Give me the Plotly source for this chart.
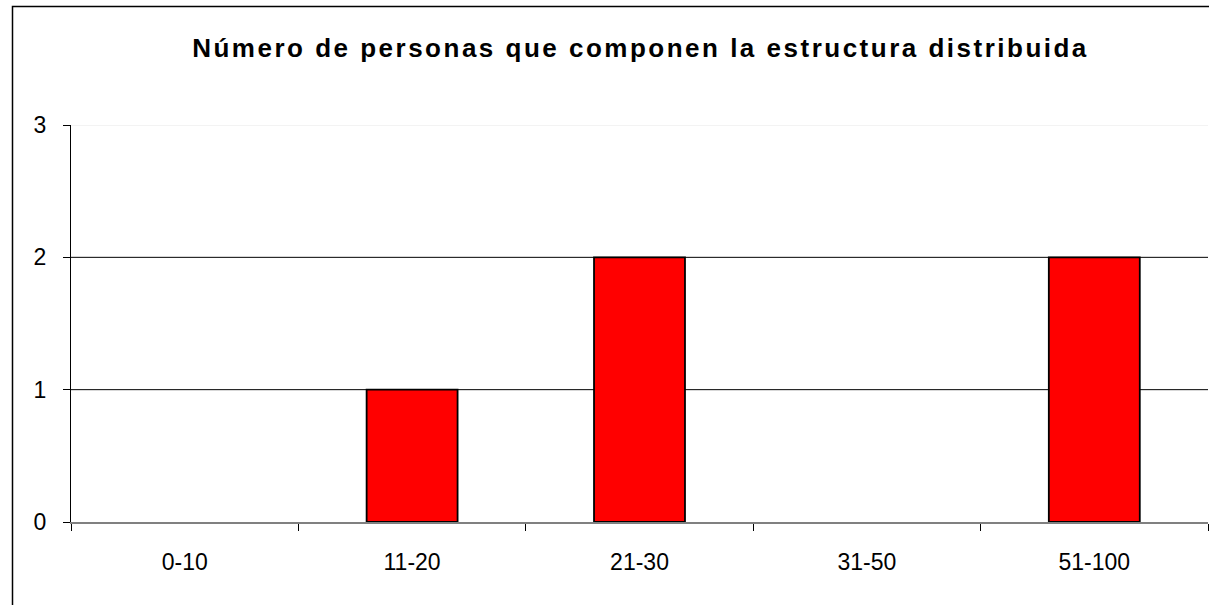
import plotly.graph_objects as go

categories = ["0-10", "11-20", "21-30", "31-50", "51-100"]
values = [0, 1, 2, 0, 2]
y_ticks = [0, 1, 2, 3]
title = "Número de personas que componen la estructura distribuida"

W, H = 1209, 605
ml, mr, mt, mb = 71, 1, 125, 83
pw, ph = W - ml - mr, H - mt - mb

fig = go.Figure()
fig.add_trace(go.Bar(
    x=categories, y=values,
    marker=dict(color="#FF0000",
                line=dict(color="#000000", width=[1.8 if v > 0 else 0 for v in values])),
    width=0.4,
))

shapes = []
for v in [1, 2]:
    shapes.append(dict(type="line", xref="paper", yref="y", x0=0, x1=1, y0=v, y1=v,
                       line=dict(color="#000000", width=1), layer="below"))
shapes.append(dict(type="line", xref="paper", yref="y", x0=0, x1=1, y0=3, y1=3,
                   line=dict(color="#E8E8E8", width=1), layer="below"))
# outer chart border
shapes.append(dict(type="rect", xref="paper", yref="paper",
                   x0=(12.5 - ml) / pw, x1=1.3, y0=-0.5, y1=(H - mb - 6.5) / ph,
                   line=dict(color="#000000", width=1.5), fillcolor="rgba(0,0,0,0)"))

fig.update_layout(
    width=W, height=H,
    margin=dict(l=ml, r=mr, t=mt, b=mb),
    paper_bgcolor="white", plot_bgcolor="white",
    showlegend=False,
    shapes=shapes,
    title=dict(text="<b>" + title + "</b>", x=640.5 / W, xanchor="center", y=1 - 48 / H, yanchor="middle",
               font=dict(family="Liberation Sans, Arial", size=26, color="#000000")),
    font=dict(family="Liberation Sans, Arial", size=23, color="#000000"),
)
fig.update_xaxes(
    type="category", showgrid=False, showline=True, linecolor="#808080", linewidth=1.5,
    ticks="outside", tickson="boundaries", ticklen=7, tickcolor="#000000",
    ticklabelstandoff=19,
)
fig.update_yaxes(
    range=[0, 3], tickvals=y_ticks, showgrid=False, zeroline=False,
    showline=True, linecolor="#000000", linewidth=1,
    ticks="outside", ticklen=7, tickcolor="#000000", ticklabelstandoff=12,
)
fig.write_html(
    "out.html",
    config={"displayModeBar": False},
    post_script=(
        "document.documentElement.style.overflow='hidden';"
        "document.body.style.margin='0';document.body.style.overflow='hidden';"
        "document.querySelectorAll('.gtitle').forEach(function(t){t.style.letterSpacing='2.5px';});"
    ),
)
